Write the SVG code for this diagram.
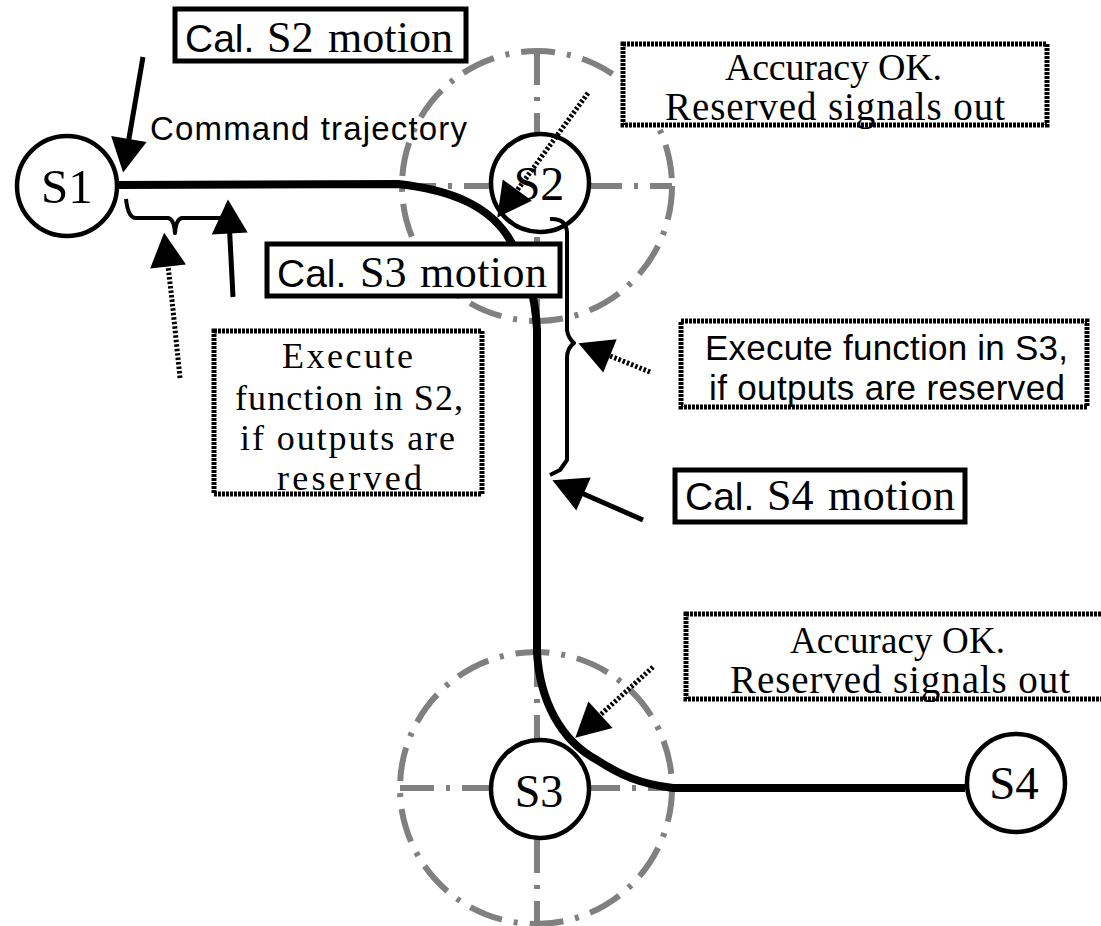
<svg xmlns="http://www.w3.org/2000/svg" width="1101" height="926" viewBox="0 0 1101 926">
<style>
.serif{font-family:"Liberation Serif","Times New Roman",serif;fill:#000}
.sans{font-family:"Liberation Sans",Arial,sans-serif;fill:#000}
.guide{fill:none;stroke:#808080;stroke-width:6;stroke-dasharray:34 12 4 12}
.traj{fill:none;stroke:#000;stroke-width:8}
.node{fill:#fff;stroke:#000;stroke-width:4.5}
.solidbox{fill:#fff;stroke:#000;stroke-width:5}
.dotbox{fill:#fff;stroke:#000;stroke-width:5;stroke-dasharray:3 1}
.arrow{fill:none;stroke:#000;stroke-width:5;marker-end:url(#ah)}
.dotarrow{fill:none;stroke:#000;stroke-width:5;stroke-dasharray:2.5 2;marker-end:url(#ah)}
.brace{fill:none;stroke:#000;stroke-width:4;stroke-linejoin:round}
</style>
<defs>
<marker id="ah" markerUnits="userSpaceOnUse" viewBox="0 0 34 36" refX="0.5" refY="18" markerWidth="34" markerHeight="36" orient="auto" overflow="visible">
<path d="M0,0 L34,18 L0,36 z" fill="#000"/>
</marker>
</defs>
<rect width="1101" height="926" fill="#fff"/>
<g id="guides">
<circle class="guide" cx="537" cy="186" r="135"/>
<line class="guide" x1="537" y1="51" x2="537" y2="321"/>
<line class="guide" x1="402" y1="186" x2="672" y2="186"/>
<circle class="guide" cx="536" cy="788" r="136"/>
<line class="guide" x1="537" y1="653" x2="537" y2="926"/>
<line class="guide" x1="400" y1="788" x2="672" y2="788"/>
</g>
<g id="trajectory">
<path class="traj" d="M118,185 L398,184 C452,190 490,206 510,240 C525,265 535,290 537,330 L537,653 C540,700 560,740 597,760 C620,775 640,784 673,788 L965,788"/>
</g>
<g id="node-S1">
<circle class="node" cx="67" cy="186" r="50"/>
<text class="serif" x="67" y="203" font-size="49" text-anchor="middle">S1</text>
</g>
<g id="node-S2">
<circle class="node" cx="540" cy="183" r="49"/>
<text class="serif" x="539" y="200" font-size="48" text-anchor="middle">S2</text>
</g>
<g id="node-S3">
<circle class="node" cx="540" cy="789" r="49"/>
<text class="serif" x="539" y="807" font-size="46" text-anchor="middle">S3</text>
</g>
<g id="node-S4">
<circle class="node" cx="1016" cy="783" r="49"/>
<text class="serif" x="1014" y="799" font-size="47" text-anchor="middle">S4</text>
</g>
<g id="label-command">
<text class="sans" x="150" y="140" font-size="33" textLength="317">Command trajectory</text>
</g>
<g id="box-cal-s2">
<rect class="solidbox" x="175" y="9" width="291" height="52"/>
<text y="52"><tspan class="sans" x="185" font-size="39">Cal.</tspan><tspan class="serif" x="267" font-size="44">S2</tspan><tspan class="serif" x="328" font-size="44" textLength="125">motion</tspan></text>
</g>
<g id="box-cal-s3">
<rect class="solidbox" x="267" y="244" width="293" height="52"/>
<text y="287"><tspan class="sans" x="277" font-size="39">Cal.</tspan><tspan class="serif" x="360" font-size="44">S3</tspan><tspan class="serif" x="420" font-size="44" textLength="127">motion</tspan></text>
</g>
<g id="box-cal-s4">
<rect class="solidbox" x="675" y="470" width="290" height="52"/>
<text y="510"><tspan class="sans" x="685" font-size="39">Cal.</tspan><tspan class="serif" x="767" font-size="44">S4</tspan><tspan class="serif" x="828" font-size="44" textLength="127">motion</tspan></text>
</g>
<g id="box-accuracy-1">
<rect class="dotbox" x="623" y="44" width="424" height="81"/>
<text class="serif" x="725" y="80" font-size="38" textLength="217">Accuracy OK.</text>
<text class="serif" x="665" y="120" font-size="39" textLength="340">Reserved signals out</text>
</g>
<g id="box-accuracy-2">
<rect class="dotbox" x="686" y="614" width="430" height="85"/>
<text class="serif" x="790" y="653" font-size="37" textLength="215">Accuracy OK.</text>
<text class="serif" x="730" y="693" font-size="39" textLength="340">Reserved signals out</text>
</g>
<g id="box-exec-s2">
<rect class="dotbox" x="214" y="331" width="268" height="163"/>
<text class="serif" x="282" y="368" font-size="36" textLength="131">Execute</text>
<text class="serif" x="235" y="410" font-size="36" textLength="228">function in S2,</text>
<text class="serif" x="240" y="450" font-size="36" textLength="215">if outputs are</text>
<text class="serif" x="277" y="490" font-size="36" textLength="145">reserved</text>
</g>
<g id="box-exec-s3">
<rect class="dotbox" x="681" y="321" width="406" height="86"/>
<text class="sans" x="705" y="360" font-size="35" textLength="363">Execute function in S3,</text>
<text class="sans" x="709" y="400" font-size="35" textLength="356">if outputs are reserved</text>
</g>
<g id="connectors">
<path class="brace" d="M126,199 Q128,218 136,218 L168,218 Q174,219 175,233 Q176,219 182,218 L220,218 Q226,217 228,203"/>
<path class="brace" d="M550,219 Q566,218 567,232 L567,330 Q568,338 574,343 Q567,348 567,358 L567,460 L560,470 L550,475"/>
<path class="arrow" d="M143,57 L128.8,139.5"/>
<path class="arrow" d="M233,297 L229.7,233"/>
<path class="dotarrow" d="M180,378 L172,300 L168,266"/>
<path class="dotarrow" d="M588,93 L517,190.5"/>
<path class="dotarrow" d="M653,667 L600.1,715.1"/>
<path class="arrow" d="M643,520 L583.1,493.7"/>
<path class="dotarrow" d="M650,372 L609.5,355.7"/>
</g>
</svg>
